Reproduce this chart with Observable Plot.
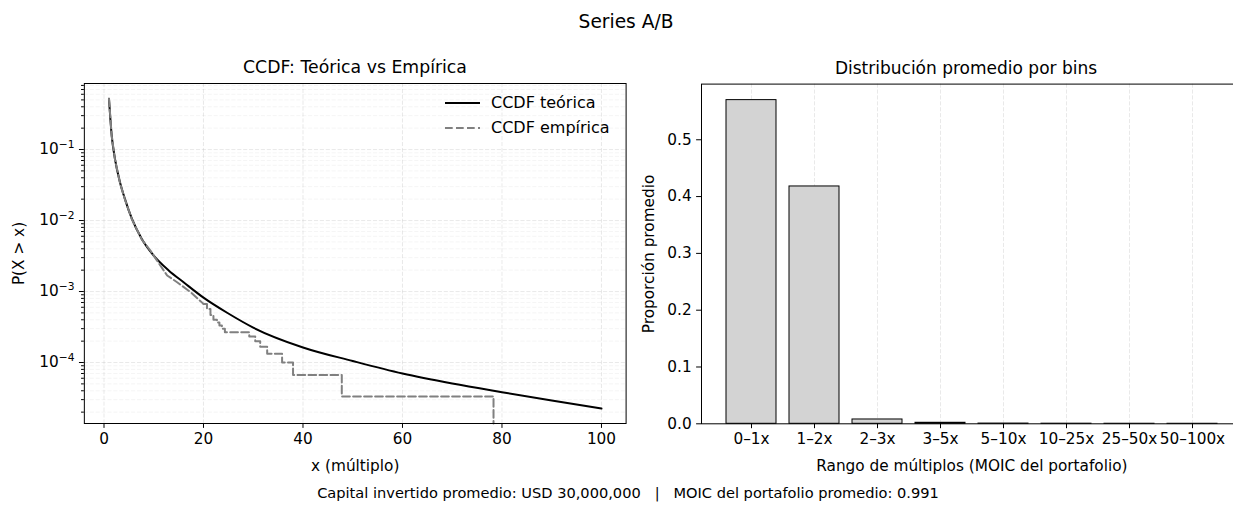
<!DOCTYPE html>
<html>
<head>
<meta charset="utf-8">
<script src="https://cdn.jsdelivr.net/npm/d3@7"></script>
<script src="https://cdn.jsdelivr.net/npm/@observablehq/plot@0.6"></script>
<style>
  html, body { margin: 0; padding: 0; background: #fff; }
  #wrap { position: relative; width: 1233px; height: 514px; overflow: hidden; background: #fff; font-family: "DejaVu Sans", sans-serif; color: #000; }
  .t { position: absolute; white-space: nowrap; transform: translate(-50%, -50%); line-height: 1; }
  .panel { position: absolute; top: 0; }
  .panel svg { max-width: none !important; overflow: visible; background: transparent; }
  .leg { position: absolute; white-space: nowrap; font-size: 16px; line-height: 1; transform: translateY(-50%); }
</style>
</head>
<body>
<div id="wrap">
  <div class="t" style="left:626px; top:22px; font-size:18.6px;">Series A/B</div>
  <div class="t" style="left:355px; top:68px; font-size:17.3px;">CCDF: Teórica vs Empírica</div>
  <div class="t" style="left:966px; top:68px; font-size:17px;">Distribución promedio por bins</div>
  <div class="t" style="left:628px; top:493px; font-size:14.6px;">Capital invertido promedio: USD 30,000,000 &nbsp;&nbsp;|&nbsp;&nbsp; MOIC del portafolio promedio: 0.991</div>
  <div id="left" class="panel" style="left:0px;"></div>
  <div id="right" class="panel" style="left:640px;"></div>
  <svg style="position:absolute; left:0; top:0;" width="1233" height="514" pointer-events="none">
    <line x1="445" x2="480" y1="103" y2="103" stroke="#000" stroke-width="2"/>
    <line x1="445" x2="480" y1="128" y2="128" stroke="#808080" stroke-width="2" stroke-dasharray="7.7,3.3"/>
  </svg>
  <div class="leg" style="left:491px; top:103px;">CCDF teórica</div>
  <div class="leg" style="left:491px; top:128px;">CCDF empírica</div>
</div>
<script>
// ---------------- DATA ----------------
// Theoretical CCDF
const theoX = [1, 1.55, 2.2, 3.2, 4.2, 5.6, 7.6, 10, 13, 16, 20, 25, 30, 40, 50, 60, 70, 80, 90, 100];
const theoP = [0.52, 0.157, 0.074, 0.035, 0.0202, 0.0106, 0.0055, 0.0032, 0.00198, 0.00135, 0.00082, 0.00049, 0.00031, 0.000163, 0.000105, 0.000070, 0.0000506, 0.0000382, 0.0000292, 0.0000225];

// Empirical CCDF (dense part)
const empX = [1, 1.55, 2.2, 3.2, 4.2, 5.6, 7.6, 9.4, 10.7, 12.7, 14.7, 17.4, 20];
const empP = [0.52, 0.156, 0.073, 0.034, 0.0199, 0.0104, 0.0054, 0.0037, 0.0027, 0.00168, 0.00135, 0.00098, 0.00067];

// Empirical CCDF tail: counts out of the sample size (steps)
const sampleSize = 30000;
const tailX = [20, 20.7, 21.4, 22, 22.7, 23.2, 23.7, 24.3, 29.2, 30.4, 31.4, 32.8, 34.7, 35.8, 38, 47.8, 78.3];
const tailK = [20, 17, 14, 12, 11, 10, 9, 8, 7, 6, 5, 4, 4, 3, 2, 1, 0];

// Bar chart
const bins = ["0–1x", "1–2x", "2–3x", "3–5x", "5–10x", "10–25x", "25–50x", "50–100x"];
const binProps = [0.5698, 0.4178, 0.0076, 0.0018, 0.0004, 0.0002, 0.0001, 0.00005];

// Tick values
const xTicksLeft = [0, 20, 40, 60, 80, 100];
const yMajorLeft = [1e-4, 1e-3, 1e-2, 1e-1];
const yTicksRight = [0, 0.1, 0.2, 0.3, 0.4, 0.5];

// ---------------- BUILD ----------------
const theo = theoX.map((x, i) => ({x, p: theoP[i]}));
const empA = empX.map((x, i) => ({x, p: empP[i]}));
const empB = tailX.map((x, i) => ({x, p: tailK[i] > 0 ? tailK[i] / sampleSize : 1e-12}));
const bars = bins.map((b, i) => ({bin: b, p: binProps[i]}));

const yDomLeft = [Math.pow(10, -4.859), Math.pow(10, -0.070)];
const yMinorLeft = [];
for (let e = -5; e <= -1; e++) for (let m = 2; m <= 9; m++) {
  const v = m * Math.pow(10, e);
  if (v > yDomLeft[0] && v < yDomLeft[1]) yMinorLeft.push(v);
}
const fmtPow = v => "10^" + Math.round(Math.log10(v));

const gridMajor = {stroke: "#b0b0b0", strokeOpacity: 0.28, strokeWidth: 1, strokeDasharray: "4.1,1.8"};
const gridMinor = {stroke: "#b0b0b0", strokeOpacity: 0.16, strokeWidth: 0.8, strokeDasharray: "4.1,1.8"};
const baseStyle = {fontFamily: "DejaVu Sans", fontSize: "15.3px", color: "#000", background: "transparent", overflow: "visible"};

const left = Plot.plot({
  width: 650, height: 514,
  marginLeft: 83.85, marginRight: 24.4, marginTop: 83, marginBottom: 91,
  style: baseStyle,
  x: {domain: [-3.95, 104.95]},
  y: {type: "log", domain: yDomLeft, clamp: true},
  marks: [
    Plot.gridX(xTicksLeft, gridMajor),
    Plot.gridY(yMinorLeft, gridMinor),
    Plot.gridY(yMajorLeft, gridMajor),
    Plot.line(theo, {x: "x", y: "p", stroke: "#000", strokeWidth: 2, curve: "monotone-x"}),
    Plot.line(empA, {x: "x", y: "p", stroke: "#808080", strokeWidth: 2, strokeDasharray: "7.7,3.3", curve: "linear"}),
    Plot.line(empB, {x: "x", y: "p", stroke: "#808080", strokeWidth: 2, strokeDasharray: "7.7,3.3", curve: "step-after"}),
    Plot.axisX(xTicksLeft, {tickSize: 4.9, tickPadding: 4.4, tickFormat: d => String(d), label: "x (múltiplo)", labelAnchor: "center", labelArrow: "none", labelOffset: 47}),
    Plot.axisY(yMajorLeft, {tickSize: 4.9, tickPadding: 4.9, tickFormat: fmtPow, label: "P(X > x)", labelAnchor: "center", labelArrow: "none", labelOffset: 71.5}),
    Plot.axisY(yMinorLeft, {tickSize: 2.8, tickFormat: () => "", label: null}),
    Plot.frame({stroke: "#000", strokeWidth: 1})
  ]
});
// render exponents as superscripts (like mathtext)
d3.select(left).selectAll("text").each(function() {
  const m = this.textContent.match(/^10\^(-?\d+)$/);
  if (!m) return;
  const exp = m[1].replace("-", "−");
  this.textContent = "10";
  const ts = document.createElementNS("http://www.w3.org/2000/svg", "tspan");
  ts.setAttribute("dy", "-0.62em");
  ts.setAttribute("font-size", "0.7em");
  ts.textContent = exp;
  this.appendChild(ts);
});
document.getElementById("left").appendChild(left);

const right = Plot.plot({
  width: 605, height: 514,
  marginLeft: 61, marginRight: 3.2, marginTop: 83.6, marginBottom: 90.7,
  style: baseStyle,
  x: {domain: bins, paddingInner: 0.2, paddingOuter: 0.392},
  y: {domain: [0, 0.598]},
  marks: [
    Plot.gridX(bins, gridMajor),
    Plot.barY(bars, {x: "bin", y: "p", fill: "#d3d3d3", stroke: "#000", strokeWidth: 1}),
    Plot.axisX({tickSize: 4.9, tickPadding: 4.4, label: "Rango de múltiplos (MOIC del portafolio)", labelAnchor: "center", labelArrow: "none", labelOffset: 47}),
    Plot.axisY(yTicksRight, {tickSize: 4.9, tickPadding: 4.9, tickFormat: d3.format(".1f"), label: "Proporción promedio", labelAnchor: "center", labelArrow: "none", labelOffset: 58.6}),
    Plot.frame({stroke: "#000", strokeWidth: 1})
  ]
});
document.getElementById("right").appendChild(right);
</script>
</body>
</html>
